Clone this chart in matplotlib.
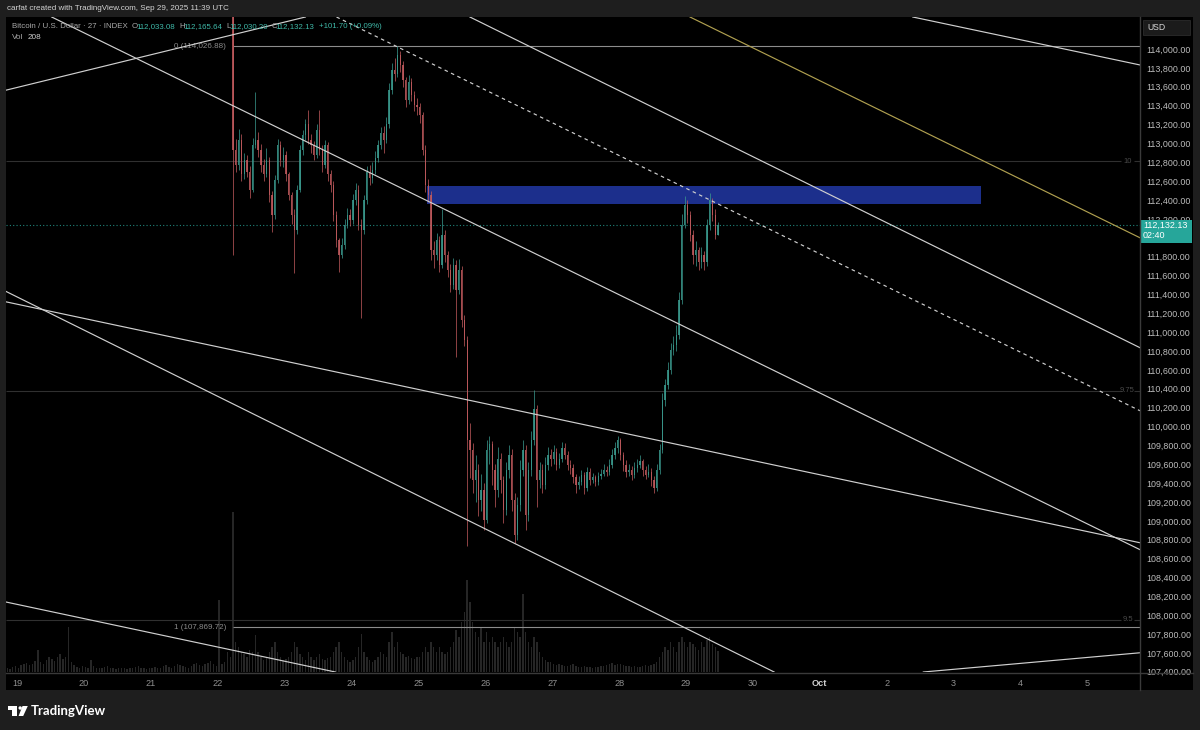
import numpy as np
import matplotlib
matplotlib.use("Agg")
import matplotlib.pyplot as plt
from matplotlib import font_manager
from matplotlib.patches import Rectangle, Polygon, Circle

# ---------- fonts ----------
_names = {f.name for f in font_manager.fontManager.ttflist}
NARROW = "Liberation Sans Narrow" if "Liberation Sans Narrow" in _names else "Liberation Sans"
LOGO = "Lato" if "Lato" in _names else "DejaVu Sans"

# ---------- data (hourly candles, Sep 22 05:00 UTC -> Sep 29 11:00 UTC) ----------
first_open = 115700
closes = [
    112930, 112770, 113040, 112670, 112820, 112700, 112510, 112980, 113040, 112930, 112770, 112670, 112820, 112450, 112240, 112610, 112980, 112820, 112880,
    112670, 112450, 112240, 112080, 112510, 112930, 113090, 113200, 113040, 112980, 112880, 113140, 112930, 112770, 112980, 112670, 112560, 112240, 111980, 111820, 111920, 112140, 112240, 112190,
    112400, 112510, 112140, 112080, 112400, 112700, 112630, 112720, 112850, 112980, 113110, 113040, 113200, 113570, 113780, 113730, 113940, 113830, 113670, 113460, 113650, 113510, 113410, 113380,
    113300, 112930, 112560, 112450, 111870, 111820, 111980, 111710, 112030, 111820, 111660, 111500, 111710, 111450, 111660, 111130, 110920, 109860, 109750, 109430, 109540, 109220, 109330, 109010,
    109750, 109810, 109540, 109330, 109650, 109430, 109120, 109540, 109700, 109220, 108850, 109170, 109540, 109750, 109060, 109540, 109860, 110180, 109430, 109540, 109380, 109590, 109700, 109650,
    109730, 109590, 109650, 109770, 109700, 109590, 109560, 109460, 109380, 109410, 109490, 109350, 109520, 109430, 109460, 109410, 109480, 109500, 109540, 109520, 109590, 109700, 109770, 109860,
    109700, 109590, 109520, 109540, 109490, 109560, 109590, 109630, 109540, 109490, 109520, 109430, 109350, 109540, 109750, 110280, 110440, 110600, 110810, 110860, 110970, 111340, 112140, 112350,
    112240, 112030, 111820, 111870, 111740, 111820, 111740, 112140, 112400, 112240, 112033.08, 112132.13,
]
highs = [
    115750, 113050, 113150, 113100, 112900, 112880, 112760, 113060, 113545, 113120, 112990, 112830, 112950, 112860, 112500, 112660, 113050, 113020, 112960,
    112920, 112700, 112480, 112300, 112560, 112980, 113140, 113260, 113350, 113100, 113020, 113200, 113350, 112980, 113040, 113010, 112720, 112600, 112280, 112000, 112000, 112200, 112320, 112300,
    112460, 112580, 112560, 112200, 112450, 112760, 112770, 112800, 112920, 113040, 113170, 113180, 113280, 113640, 113850, 113900, 114027, 113980, 113870, 113700, 113720, 113690, 113560, 113480,
    113430, 113330, 112980, 112620, 112490, 111960, 112050, 112020, 112300, 112080, 111860, 111720, 111780, 111760, 111770, 111700, 111180, 110960, 110040, 109820, 109700, 109600, 109500, 109400,
    109860, 109900, 109850, 109600, 109780, 109720, 109480, 109620, 109800, 109760, 109300, 109250, 109640, 109860, 109800, 109620, 109950, 110390, 110230, 109620, 109600, 109680, 109780, 109760,
    109800, 109770, 109720, 109830, 109820, 109740, 109640, 109600, 109500, 109480, 109540, 109520, 109570, 109560, 109510, 109490, 109520, 109550, 109600, 109580, 109650, 109760, 109830, 109900,
    109880, 109730, 109640, 109600, 109580, 109620, 109650, 109700, 109660, 109580, 109600, 109560, 109470, 109600, 109810, 110350, 110500, 110680, 110880, 110960, 111080, 111420, 112250, 112440,
    112400, 112280, 112080, 111960, 111900, 111900, 111860, 112200, 112470, 112420, 112300, 112165.64,
]
lows = [
    111820, 112700, 112720, 112600, 112620, 112640, 112420, 112480, 112950, 112860, 112700, 112600, 112640, 112380, 112060, 112200, 112580, 112760, 112750,
    112600, 112400, 112150, 111630, 112040, 112480, 112880, 113040, 112990, 112900, 112820, 112850, 112880, 112700, 112740, 112600, 112480, 112180, 111900, 111640, 111780, 111880, 112100, 112120,
    112150, 112350, 112080, 111150, 112040, 112360, 112560, 112580, 112680, 112800, 112940, 112900, 113000, 113160, 113520, 113660, 113700, 113760, 113600, 113380, 113420, 113450, 113340, 113300,
    113220, 112880, 112480, 112380, 111760, 111680, 111760, 111640, 111680, 111740, 111580, 111420, 111460, 110740, 111400, 111050, 110850, 108730, 109450, 109300, 109200, 109050, 109100, 108900,
    108980, 109600, 109380, 109150, 109250, 109300, 108980, 109060, 109450, 109100, 108770, 108800, 109100, 109480, 108900, 109000, 109480, 109800, 109150, 109350, 109300, 109340, 109540, 109580,
    109600, 109540, 109560, 109620, 109650, 109540, 109500, 109400, 109300, 109340, 109380, 109280, 109320, 109380, 109400, 109370, 109380, 109440, 109470, 109470, 109490, 109560, 109660, 109720,
    109640, 109530, 109460, 109470, 109430, 109450, 109520, 109560, 109480, 109440, 109460, 109370, 109290, 109320, 109500, 109720, 110220, 110400, 110560, 110760, 110800, 110930, 111300, 112100,
    112160, 111960, 111720, 111700, 111660, 111680, 111660, 111700, 112080, 112180, 111990, 112030.20,
]
volumes = [
    1600, 300, 250, 200, 180, 150, 220, 200, 370, 200, 150, 120, 150, 200, 250, 300, 200, 150, 120,
    130, 150, 200, 300, 250, 180, 150, 120, 200, 150, 120, 150, 180, 130, 120, 140, 150, 200, 250, 300, 200, 150, 120, 100,
    120, 150, 250, 380, 200, 150, 120, 100, 120, 150, 200, 180, 150, 300, 400, 250, 300, 200, 180, 150, 160, 140, 130, 150,
    150, 200, 250, 200, 300, 250, 200, 250, 200, 180, 200, 250, 300, 420, 350, 500, 600, 920, 700, 500, 400, 350, 450, 300,
    400, 300, 350, 300, 250, 300, 350, 300, 250, 300, 450, 400, 350, 780, 400, 300, 250, 350, 300, 200, 150, 120, 100, 100,
    80, 70, 80, 70, 60, 60, 70, 80, 60, 50, 50, 60, 50, 50, 40, 50, 50, 60, 60, 70, 80, 90, 70, 80,
    80, 70, 60, 60, 50, 60, 50, 50, 60, 70, 60, 70, 80, 100, 150, 200, 250, 220, 300, 250, 200, 300, 350, 300,
    250, 300, 280, 250, 220, 300, 250, 320, 350, 280, 250, 208,
]
# volume of the hours before the first visible candle (price itself is above the view)
volumes_before = [
    40, 35, 50, 60, 45, 70, 80, 90, 70, 80,
    110, 220, 100, 80, 120, 150, 130, 110, 150, 180,
    130, 150, 450, 100, 70, 50, 45, 60, 50, 45,
    120, 60, 45, 40, 45, 50, 60, 45, 40, 30,
    40, 45, 40, 30, 40, 45, 50, 60, 45, 40,
    30, 40, 45, 50, 40, 45, 60, 70, 50, 45,
    60, 80, 70, 60, 50, 45, 60, 80, 90, 70,
    60, 80, 90, 110, 80, 60, 720, 80, 100, 200,
    150,
]

start_day = 22 + 5.5 / 24          # Sep 22 05:30 UTC, x in "September day" units (Oct 1 = 31)
last_price = 112132.13

# drawings: infinite trend lines as two anchors (day, price)
trend_lines = [
    ((19.64, 114297), (35.79, 108693)),
    ((18.84, 111320), (35.79, 108767)),
    ((18.85, 113566), (22.33, 114169)),
    ((25.77, 114339), (35.79, 110833)),
    ((32.39, 114339), (35.79, 113830)),
    ((18.85, 111426), (30.40, 107369)),
    ((18.82, 108142), (23.95, 107369)),
    ((32.42, 107390), (35.79, 107602)),
]
dashed_line = ((24.72, 114011), (35.79, 110165))
yellow_line = ((29.06, 114339), (35.79, 111998))
box_start, box_end = 25.13, 33.41
box_low, box_high = 112358, 112549
fib_start = 22.23
fib_levels = [114026.88, 107869.72]
fib_labels = ["0 (114,026.88)", "1 (107,869.72)"]
ext_levels = [112813, 110377, 107951]
ext_labels = ["10", "9.75", "9.5"]

tick_days = list(range(19, 36))
tick_names = [str(d) for d in range(19, 31)] + ["Oct", "2", "3", "4", "5"]
price_ticks = np.arange(107400, 114001, 200)
hidden_ticks = [112000]            # covered by the last-price tag

UP, DOWN = "#26a69a", "#ef5350"
W, H = 1200, 730

# ---------- figure ----------
fig = plt.figure(figsize=(12, 7.3), dpi=100, facecolor="#1e1e1e")

# background panel (pixel coords)
under = fig.add_axes([0, 0, 1, 1], zorder=-2)
under.set_xlim(0, W); under.set_ylim(H, 0); under.axis("off")
under.add_patch(Rectangle((6, 17), 1187, 673, color="black", lw=0))

rect = [6 / W, 1 - 672 / H, (1140 - 6) / W, (672 - 17) / H]
xlim = (18.836, 35.786)
ylim = (107398, 114339)

# volume pane (shares the time axis)
axv = fig.add_axes(rect, zorder=0)
axv.set_xlim(*xlim); axv.set_ylim(0, 6550); axv.axis("off")
t = start_day + np.arange(len(closes)) / 24
tb = start_day - (len(volumes_before) - np.arange(len(volumes_before))) / 24
axv.bar(np.concatenate([tb, t]), volumes_before + volumes, width=0.5 / 24, color="#262626", lw=0)

# price pane
ax = fig.add_axes(rect, zorder=1)
ax.patch.set_visible(False)
ax.set_xlim(*xlim); ax.set_ylim(*ylim)
for s in ax.spines.values():
    s.set_visible(False)

# horizontal levels
for lv in ext_levels:
    ax.hlines(lv, xlim[0], 35.50, color="#303030", lw=0.8, zorder=1)
    ax.hlines(lv, 35.70, xlim[1], color="#303030", lw=0.8, zorder=1)
for lv, lab in zip(ext_levels, ext_labels):
    ax.text(35.60, lv, lab, color="#4a4a4a", fontsize=5.5, ha="center", va="center", family=NARROW)
for lv, lab in zip(fib_levels, fib_labels):
    ax.hlines(lv, fib_start, xlim[1], color="#8c8c8c", lw=0.8, zorder=1)
    ax.annotate(lab, (fib_start, lv), xytext=(-5, 0), textcoords="offset points",
                color="#8c8c8c", fontsize=5.8, ha="right", va="center", family=NARROW)
ax.axhline(last_price, color=UP, lw=0.8, ls=(0, (1, 2)), alpha=0.8, zorder=1)

# zone box
ax.add_patch(Rectangle((box_start, box_low), box_end - box_start, box_high - box_low,
                       color="#1c2f8c", lw=0, zorder=2))

# candles
o = np.array([first_open] + closes[:-1], dtype=float)
c = np.array(closes, dtype=float)
hi = np.maximum(np.array(highs, dtype=float), np.maximum(o, c))
lo = np.minimum(np.array(lows, dtype=float), np.minimum(o, c))
cols = np.where(c >= o, "#3a9a8e", "#c25a5e")
ax.vlines(t, lo, hi, colors=cols, lw=0.6, alpha=0.85, zorder=3)
ax.bar(t, np.maximum(np.abs(c - o), 12), bottom=np.minimum(o, c), width=0.45 / 24,
       color=cols, lw=0, alpha=0.85, zorder=3)

# trend lines
for p1, p2 in trend_lines:
    ax.axline(p1, p2, color="#d0d0d0", lw=0.85, zorder=4)
ax.axline(*dashed_line, color="#d0d0d0", lw=0.85, ls=(0, (3, 3)), zorder=4)
ax.axline(*yellow_line, color="#b0a050", lw=0.85, zorder=4)

# axes ticks
ax.yaxis.tick_right()
ax.set_yticks(price_ticks)
ax.set_yticklabels(["" if p in hidden_ticks else f"{p:,.2f}" for p in price_ticks])
ax.tick_params(axis="y", length=0, pad=4.5, labelsize=6.4, labelcolor="#bdbdbd")
ax.set_xticks(tick_days)
ax.set_xticklabels(tick_names)
ax.tick_params(axis="x", length=0, pad=5, labelsize=6.6, labelcolor="#8f8f8f")
for lab in ax.get_xticklabels() + ax.get_yticklabels():
    lab.set_family(NARROW)
for lab in ax.get_xticklabels():
    if lab.get_text() == "Oct":
        lab.set_fontweight("bold"); lab.set_color("#cfcfcf")

# ---------- overlay in pixel coords ----------
ov = fig.add_axes([0, 0, 1, 1], zorder=5)
ov.set_xlim(0, W); ov.set_ylim(H, 0); ov.axis("off")
ov.plot([1140, 1140], [17, 690], color="#3a3a3a", lw=1)
ov.plot([6, 1193], [672.5, 672.5], color="#3a3a3a", lw=1)

ov.text(7, 9, "carfat created with TradingView.com, Sep 29, 2025 11:39 UTC",
        color="#d4d4d4", fontsize=5.8, va="center", family=NARROW)

renderer = fig.canvas.get_renderer()


def chain(pieces, x, y, size):
    # write text pieces one after another on a line
    for txt, col, gap in pieces:
        tx = ov.text(x, y, txt, color=col, fontsize=size, va="center", family=NARROW)
        bb = tx.get_window_extent(renderer).transformed(ov.transData.inverted())
        x = bb.x1 + gap


grey, teal = "#a9a9a9", "#3fb8a8"
chain([("Bitcoin / U.S. Dollar · 27 · INDEX", grey, 4),
       ("O", grey, -1.5), ("112,033.08", teal, 4),
       ("H", grey, -1.5), ("112,165.64", teal, 4),
       ("L", grey, -1.5), ("112,030.20", teal, 4),
       ("C", grey, -1.5), ("112,132.13", teal, 4),
       ("+101.70 (+0.09%)", teal, 0)], 12, 27, 5.7)
chain([("Vol", grey, 4), ("208", "#cfcfcf", 0)], 12, 37.5, 5.9)

# USD box
ov.add_patch(Rectangle((1143, 19.5), 47, 15, facecolor="#1b1b1b", edgecolor="#2b2b2b", lw=0.6))
ov.text(1147, 27.5, "USD", color="#d8d8d8", fontsize=6.2, va="center", family=NARROW)

# last price tag
ov.add_patch(Rectangle((1140, 219.5), 52, 23.5, color=UP, lw=0))
ov.text(1143, 225, f"{last_price:,.2f}", color="white", fontsize=6.5, va="center", family=NARROW)
ov.text(1143, 235.5, "02:40", color="white", fontsize=6.5, va="center", family=NARROW)

# TradingView logo
ov.add_patch(Polygon([(8, 706), (17.2, 706), (17.2, 716), (12.4, 716), (12.4, 709.5), (8, 709.5)],
                     closed=True, color="white", lw=0))
ov.add_patch(Circle((20.2, 708), 1.7, color="white", lw=0))
ov.add_patch(Polygon([(22.5, 706), (27.8, 706), (23.2, 716), (18.6, 716)], closed=True, color="white", lw=0))
ov.text(31, 711, "TradingView", color="white", fontsize=9.5, fontweight="bold", va="center", family=LOGO)

fig.savefig("out.png", dpi=100, facecolor=fig.get_facecolor())
